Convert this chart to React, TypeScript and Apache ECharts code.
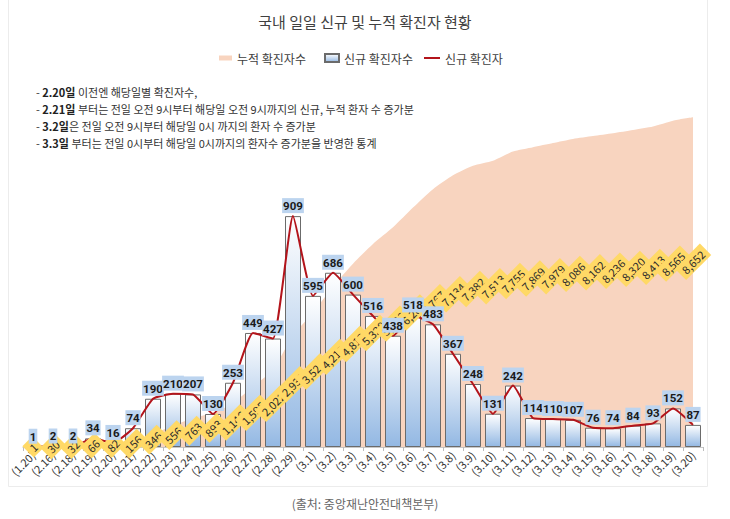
import React, { useEffect, useRef } from "react";
import * as echarts from "echarts";

const categories = [
  "(1.20)", "(2.16)", "(2.18)", "(2.19)", "(2.20)", "(2.21)", "(2.22)", "(2.23)", "(2.24)", "(2.25)",
  "(2.26)", "(2.27)", "(2.28)", "(2.29)", "(3.1)", "(3.2)", "(3.3)", "(3.4)", "(3.5)", "(3.6)",
  "(3.7)", "(3.8)", "(3.9)", "(3.10)", "(3.11)", "(3.12)", "(3.13)", "(3.14)", "(3.15)", "(3.16)",
  "(3.17)", "(3.18)", "(3.19)", "(3.20)",
];

const newCases = [
  1, 2, 2, 34, 16, 74, 190, 210, 207, 130,
  253, 449, 427, 909, 595, 686, 600, 516, 438, 518,
  483, 367, 248, 131, 242, 114, 110, 107, 76, 74,
  84, 93, 152, 87,
];

const cumulativeCases = [
  1, 30, 32, 66, 82, 156, 346, 556, 763, 893,
  1146, 1595, 2022, 2931, 3526, 4212, 4812, 5328, 5766, 6284,
  6767, 7134, 7382, 7513, 7755, 7869, 7979, 8086, 8162, 8236,
  8320, 8413, 8565, 8652,
];

const notes = [
  ["2.20일", " 이전엔 해당일별 확진자수,"],
  ["2.21일", " 부터는 전일 오전 9시부터 해당일 오전 9시까지의 신규, 누적 환자 수 증가분"],
  ["3.2일", "은 전일 오전 9시부터 해당일 0시 까지의 환자 수 증가분"],
  ["3.3일", " 부터는 전일 0시부터 해당일 0시까지의 환자수 증가분을 반영한 통계"],
];

const FONT = "'Noto Sans CJK KR', 'Noto Sans', sans-serif";
const NUM_FONT = "Roboto, 'Noto Sans', sans-serif";
const PEACH = "#f8d4bf";
const RED = "#b3141b";

export default function App() {
  const ref = useRef<HTMLDivElement>(null);

  useEffect(() => {
    document.body.style.margin = "0";
    if (!ref.current) return;
    const chart = echarts.init(ref.current, undefined, { renderer: "svg" });

    const noteText = notes.map((n) => `- {b|${n[0]}}{n|${n[1]}}`).join("\n");
    const legendText = { fontFamily: FONT, fontSize: 12, color: "#404040" };

    const option: any = {
      animation: false,
      backgroundColor: "#ffffff",
      textStyle: { fontFamily: FONT },
      title: {
        text: "국내 일일 신규 및 누적 확진자 현황",
        left: "center",
        top: 9,
        textStyle: { fontFamily: FONT, fontSize: 15, fontWeight: "normal", color: "#404040" },
      },
      legend: [
        {
          left: 214,
          top: 47,
          itemWidth: 13,
          itemHeight: 5,
          itemGap: 2,
          selectedMode: false,
          textStyle: legendText,
          data: [{ name: "누적 확진자수", icon: "rect" }],
        },
        {
          left: 319,
          top: 47,
          itemWidth: 14,
          itemHeight: 8,
          selectedMode: false,
          textStyle: legendText,
          data: [{ name: "신규 확진자수", icon: "rect" }],
        },
        {
          left: 419,
          top: 47,
          itemWidth: 16,
          itemHeight: 2,
          selectedMode: false,
          textStyle: legendText,
          data: [{ name: "신규 확진자", icon: "rect", itemStyle: { color: RED } }],
        },
      ],
      grid: { left: 23, right: 27, top: 66, bottom: 72, containLabel: false },
      xAxis: {
        type: "category",
        data: categories,
        boundaryGap: true,
        axisLine: { lineStyle: { color: "#c8c8c8" } },
        axisTick: { show: true, lineStyle: { color: "#bdbdbd" }, length: 4 },
        axisLabel: { interval: 0, rotate: 45, fontSize: 11, color: "#333", fontFamily: FONT, margin: 6 },
        splitLine: { show: false },
      },
      yAxis: [
        { type: "value", min: 0, max: 1500, show: false, splitLine: { show: false } },
        { type: "value", min: 0, max: 10000, show: false, splitLine: { show: false } },
        { type: "value", min: 0, max: 17800, show: false, splitLine: { show: false } },
      ],
      series: [
        {
          name: "누적 확진자수",
          type: "line",
          yAxisIndex: 1,
          data: cumulativeCases,
          symbol: "none",
          smooth: 0.2,
          itemStyle: { color: PEACH },
          lineStyle: { width: 0, color: PEACH },
          areaStyle: { color: PEACH, opacity: 1 },
          z: 1,
        },
        {
          name: "신규 확진자수",
          type: "bar",
          yAxisIndex: 0,
          data: newCases,
          barWidth: 16,
          itemStyle: {
            color: new echarts.graphic.LinearGradient(0, 0, 0, 1, [
              { offset: 0, color: "#ffffff" },
              { offset: 1, color: "#93b8e3" },
            ]),
            borderColor: "#6b6b6b",
            borderWidth: 1,
          },
          z: 3,
        },
        {
          name: "신규 확진자",
          type: "line",
          yAxisIndex: 0,
          data: newCases,
          symbol: "none",
          smooth: 0.15,
          itemStyle: { color: RED },
          lineStyle: { width: 2, color: RED },
          z: 4,
        },
        {
          name: "누적 라벨",
          type: "line",
          yAxisIndex: 2,
          data: cumulativeCases,
          symbol: "circle",
          symbolSize: 0,
          showSymbol: true,
          lineStyle: { width: 0, opacity: 0 },
          itemStyle: { color: "#ffd966", opacity: 1 },
          silent: true,
          label: {
            show: true,
            position: "inside",
            rotate: 45,
            opacity: 1,
            fontFamily: FONT,
            fontSize: 11,
            color: "#2b2b2b",
            backgroundColor: "#ffd966",
            padding: [3, 4, 2, 4],
            formatter: (p: any) => Number(p.value).toLocaleString("en-US"),
          },
          z: 5,
        },
        {
          name: "신규 라벨",
          type: "line",
          yAxisIndex: 0,
          data: newCases,
          symbol: "circle",
          symbolSize: 0,
          showSymbol: true,
          lineStyle: { width: 0, opacity: 0 },
          itemStyle: { color: "#bcd4ef", opacity: 1 },
          silent: true,
          label: {
            show: true,
            position: "top",
            distance: 3,
            opacity: 1,
            fontFamily: NUM_FONT,
            fontSize: 11.5,
            fontWeight: "bold",
            color: "#1a1a1a",
            backgroundColor: "#bcd4ef",
            padding: [2, 1, 1, 1],
          },
          z: 7,
        },
      ],
      graphic: [
        {
          type: "polyline",
          silent: true,
          shape: { points: [[8.5, 0], [8.5, 486.5], [707.5, 486.5], [707.5, 0]] },
          style: { stroke: "#ececec", fill: null, lineWidth: 1 },
          z: 0,
        },
        {
          type: "text",
          left: 36,
          top: 84,
          z: 10,
          style: {
            text: noteText,
            fontFamily: FONT,
            fontSize: 11,
            lineHeight: 16.8,
            fill: "#333",
            rich: {
              b: { fontFamily: FONT, fontSize: 11, fontWeight: "bold", fill: "#222", lineHeight: 16.8 },
              n: { fontFamily: FONT, fontSize: 11, fill: "#333", lineHeight: 16.8 },
            },
          },
        },
        {
          type: "text",
          left: "center",
          top: 497,
          z: 10,
          style: {
            text: "(출처: 중앙재난안전대책본부)",
            fontFamily: FONT,
            fontSize: 12,
            fill: "#666",
          },
        },
      ],
    };

    chart.setOption(option);
    return () => chart.dispose();
  }, []);

  return <div ref={ref} style={{ width: 730, height: 519 }} />;
}
